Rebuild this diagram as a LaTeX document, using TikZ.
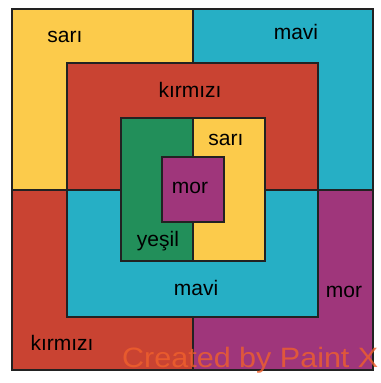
\documentclass[tikz,border=0pt]{standalone}
\usepackage{fontspec}
\setmainfont{Liberation Sans}
\definecolor{Sari}{HTML}{FCCB4B}
\definecolor{Mavi}{HTML}{26AFC5}
\definecolor{Kirmizi}{HTML}{C94332}
\definecolor{Mor}{HTML}{9F367B}
\definecolor{Yesil}{HTML}{228F5A}
\definecolor{Ink}{HTML}{222222}
\definecolor{Mark}{HTML}{F0602C}

\begin{document}
\begin{tikzpicture}[x=1bp,y=-1bp,
  region/.style={draw=Ink,line width=1.3bp},
  lbl/.style={font=\fontsize{21bp}{24bp}\selectfont,text=black,inner sep=0pt},
  wmark/.style={font=\fontsize{28bp}{32bp}\selectfont,text=Mark,text opacity=0.8,inner sep=0pt,anchor=base west}
]
\useasboundingbox (0,0) rectangle (381,383);
\fill[white] (0,0) rectangle (381,383);

% outer quadrants
\filldraw[region,fill=Sari] (12,9) rectangle (193,190);
\filldraw[region,fill=Mavi] (193,9) rectangle (373,190);
\filldraw[region,fill=Kirmizi] (12,190) rectangle (193,370);
\filldraw[region,fill=Mor] (193,190) rectangle (373,370);

% second ring
\filldraw[region,fill=Kirmizi] (67,63) rectangle (318,190);
\filldraw[region,fill=Mavi] (67,190) rectangle (318,317);

% third ring
\filldraw[region,fill=Yesil] (121,118) rectangle (193,261);
\filldraw[region,fill=Sari] (193,118) rectangle (265,261);

% centre
\filldraw[region,fill=Mor] (162,157) rectangle (224,222);

% labels
\foreach \n/\x/\y/\t in {sariA/65/37/sarı, maviA/296/32/mavi, kirmiziA/190/90/kırmızı,
    sariB/226/140/sarı, morA/190/188/mor, yesil/158/241/yeşil,
    maviB/196/288/mavi, morB/344/292/mor, kirmiziB/62/343/kırmızı}
  \node[lbl] (\n) at (\x,\y) {\t};

\node[wmark] (mark) at (122,367) {\scalebox{1.09}[1]{Created by Paint X}};
\end{tikzpicture}
\end{document}
